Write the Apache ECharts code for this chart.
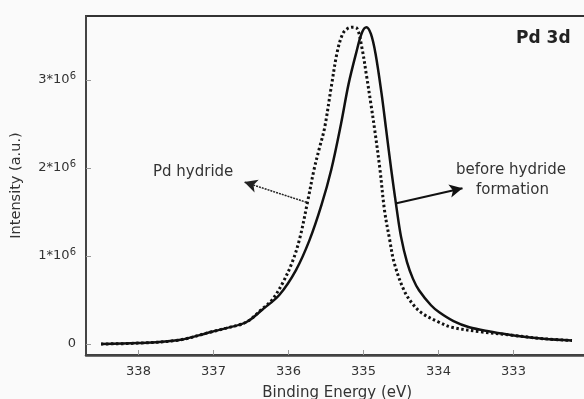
<!DOCTYPE html>
<html>
<head>
<meta charset="utf-8">
<script src="https://cdn.jsdelivr.net/npm/echarts@6/dist/echarts.min.js"></script>
<style>
  html, body { margin: 0; padding: 0; background: #fafafa; }
  #chart { width: 584px; height: 399px; }
</style>
</head>
<body>
<div id="chart"></div>
<script>
// binding energy (eV) / intensity (x10^6)
const beforeE = [338.5, 338.0, 337.46, 337.02, 336.83, 336.56, 336.35, 336.12, 335.9, 335.72, 335.56, 335.43, 335.3, 335.2, 335.1, 335.02, 334.96, 334.9, 334.84, 334.76, 334.7, 334.63, 334.56, 334.5, 334.42, 334.34, 334.26, 334.1, 333.99, 333.8, 333.59, 333.3, 333.02, 332.6, 332.22]
const beforeI = [0.0, 0.01, 0.045, 0.14, 0.18, 0.25, 0.39, 0.56, 0.84, 1.18, 1.58, 1.98, 2.5, 2.95, 3.3, 3.54, 3.6, 3.52, 3.3, 2.85, 2.45, 1.98, 1.55, 1.22, 0.93, 0.74, 0.61, 0.44, 0.36, 0.26, 0.19, 0.14, 0.1, 0.06, 0.04]

const hydrideE = [338.5, 338.0, 337.46, 337.02, 336.83, 336.56, 336.35, 336.22, 336.08, 335.95, 335.85, 335.74, 335.66, 335.59, 335.52, 335.43, 335.35, 335.28, 335.22, 335.15, 335.09, 335.02, 334.96, 334.9, 334.85, 334.78, 334.72, 334.65, 334.59, 334.46, 334.34, 334.22, 334.0, 333.82, 333.45, 333.02, 332.6, 332.22]
const hydrideI = [0.0, 0.01, 0.045, 0.14, 0.18, 0.25, 0.4, 0.5, 0.69, 0.93, 1.2, 1.64, 1.98, 2.22, 2.45, 2.92, 3.32, 3.52, 3.58, 3.6, 3.59, 3.36, 3.05, 2.72, 2.43, 1.98, 1.52, 1.18, 0.92, 0.61, 0.45, 0.35, 0.25, 0.19, 0.14, 0.1, 0.06, 0.04]

const xTicks = [338, 337, 336, 335, 334, 333]
const yTicks = [0, 1, 2, 3]

const FONT = 'DejaVu Sans'
const chart = echarts.init(document.getElementById('chart'))

const zip = (xs, ys) => xs.map((x, i) => [x, ys[i]])

chart.setOption({
    animation: false,
    backgroundColor: '#fafafa',
    textStyle: { fontFamily: FONT },
    grid: {
        left: 86,
        right: -4.5,
        top: 16,
        bottom: 44,
        outerBoundsMode: 'none',
        containLabel: false,
        show: true,
        borderColor: '#333',
        borderWidth: 2,
        backgroundColor: 'transparent',
    },
    xAxis: {
        type: 'value',
        inverse: true,
        min: 332,
        max: 338.7,
        name: 'Binding Energy (eV)',
        nameLocation: 'middle',
        nameGap: 31,
        nameTextStyle: { color: '#333', fontSize: 15, fontFamily: FONT },
        splitLine: { show: false },
        axisLine: { onZero: false, lineStyle: { color: '#444', width: 2.5 } },
        axisTick: { inside: true, length: 5, lineStyle: { color: '#999' }, customValues: xTicks },
        axisLabel: { color: '#333', fontSize: 13, margin: 10, customValues: xTicks },
    },
    yAxis: {
        type: 'value',
        min: -0.125,
        max: 3.727,
        name: 'Intensity (a.u.)',
        nameLocation: 'middle',
        nameGap: 62,
        nameTextStyle: { color: '#333', fontSize: 14.5, fontFamily: FONT },
        splitLine: { show: false },
        axisLine: { show: true, onZero: false, lineStyle: { color: '#444', width: 2 } },
        axisTick: { inside: true, length: 5, lineStyle: { color: '#999' }, customValues: yTicks },
        axisLabel: {
            color: '#333',
            fontSize: 13,
            margin: 10,
            customValues: yTicks,
            formatter: (v) => (v === 0 ? '0' : v + '*10{sup|6}'),
            rich: {
                sup: { fontSize: 10, color: '#333', padding: [0, 0, 7, 0] },
            },
        },
    },
    series: [
        {
            name: 'before hydride formation',
            type: 'line',
            smooth: 0.35,
            showSymbol: false,
            data: zip(beforeE, beforeI),
            lineStyle: { color: '#111', width: 2.5 },
            markLine: {
                silent: true,
                symbol: ['none', 'arrow'],
                symbolSize: [10, 13],
                label: { show: false },
                lineStyle: { color: '#111', width: 2, type: 'solid' },
                data: [[{ coord: [334.56, 1.6] }, { coord: [333.68, 1.77] }]],
            },
        },
        {
            name: 'Pd hydride',
            type: 'line',
            smooth: 0.35,
            showSymbol: false,
            data: zip(hydrideE, hydrideI),
            lineStyle: { color: '#111', width: 3, type: [2.5, 2.5] },
            markLine: {
                silent: true,
                symbol: ['none', 'arrow'],
                symbolSize: [10, 13],
                label: { show: false },
                lineStyle: { color: '#222', width: 1.5, type: [2, 1] },
                data: [[{ coord: [335.76, 1.61] }, { coord: [336.59, 1.84] }]],
            },
        },
    ],
    graphic: [
        { type: 'text', left: 516, top: 30, style: { text: 'Pd 3d', font: 'bold 17px ' + FONT, fill: '#222' } },
        { type: 'text', left: 153, top: 165, style: { text: 'Pd hydride', font: '15px ' + FONT, fill: '#333' } },
        { type: 'text', left: 456, top: 163, style: { text: 'before hydride', font: '15px ' + FONT, fill: '#333' } },
        { type: 'text', left: 476, top: 183, style: { text: 'formation', font: '15px ' + FONT, fill: '#333' } },
    ],
})
</script>
</body>
</html>
